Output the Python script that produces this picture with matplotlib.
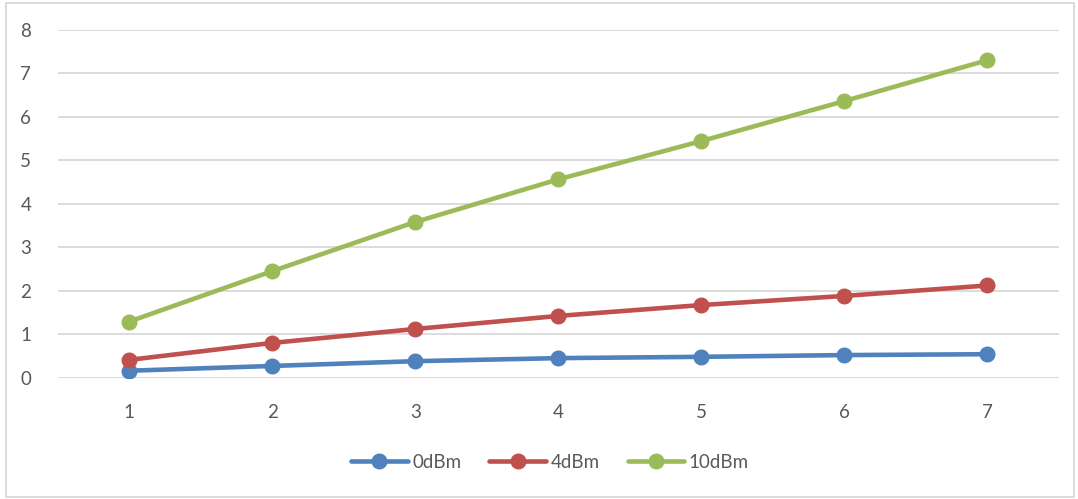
import matplotlib
matplotlib.use("Agg")
import matplotlib.pyplot as plt
from matplotlib.patches import Rectangle

plt.rcParams['font.family'] = ['Lato', 'DejaVu Sans']

categories = [1, 2, 3, 4, 5, 6, 7]
series_names = ["0dBm", "4dBm", "10dBm"]
values_0dbm = [0.16, 0.27, 0.38, 0.45, 0.48, 0.52, 0.54]
values_4dbm = [0.41, 0.80, 1.12, 1.42, 1.67, 1.88, 2.12]
values_10dbm = [1.29, 2.45, 3.58, 4.56, 5.44, 6.36, 7.30]
colors = ["#4F81BD", "#C0504D", "#9BBB59"]
y_ticks = [0, 1, 2, 3, 4, 5, 6, 7, 8]

text_color = "#595959"
grid_color = "#D9D9D9"

fig = plt.figure(figsize=(10.78, 4.99), dpi=100)
ax = fig.add_axes([57.7 / 1078, 1 - 377.7 / 499, (1059 - 57.7) / 1078, (377.7 - 29.7) / 499])

for vals, name, col in zip([values_0dbm, values_4dbm, values_10dbm], series_names, colors):
    ax.plot(categories, vals, color=col, lw=3.3, marker="o", markersize=10.5,
            label=name, solid_capstyle="round", zorder=3)

ax.set_xlim(0.5, 7.5)
ax.set_ylim(0, 8)
ax.set_yticks(y_ticks)
ax.set_xticks(categories)
ax.yaxis.grid(True, color=grid_color, lw=1.3)
ax.set_axisbelow(True)
for s in ax.spines.values():
    s.set_visible(False)
ax.tick_params(axis="both", length=0, colors=text_color, labelsize=13.5)
ax.tick_params(axis="y", pad=19)
ax.tick_params(axis="x", pad=19)

leg = ax.legend(loc="center", bbox_to_anchor=(550 / 1078, 1 - 462 / 499),
                bbox_transform=fig.transFigure, ncol=3, frameon=False,
                fontsize=13.5, handlelength=3.0, handletextpad=0.25,
                columnspacing=1.5, labelcolor=text_color)

fig.patches.append(Rectangle((5.5 / 1078, 2 / 499), 1068 / 1078, 494 / 499,
                             transform=fig.transFigure, fill=False,
                             edgecolor="#D9D9D9", lw=1.3))

fig.savefig("out.png", dpi=100)
